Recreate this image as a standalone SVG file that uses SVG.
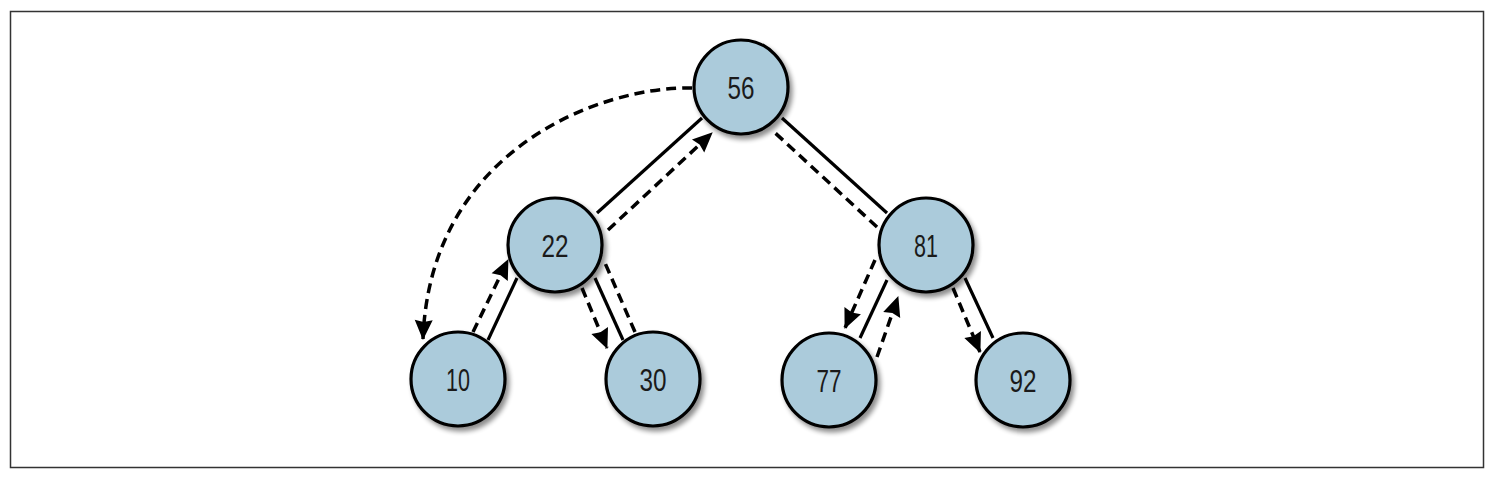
<svg xmlns="http://www.w3.org/2000/svg" width="1490" height="478" viewBox="0 0 1490 478">
<style>
.node circle{fill:#abcbdb;stroke:#000;stroke-width:3.2;filter:url(#sh)}
.node text{font-family:"Liberation Sans",Arial,sans-serif;font-size:32px;fill:#1a1a1a;text-anchor:middle}
.solid{stroke:#000;stroke-width:3.2;fill:none}
.dash{stroke:#000;stroke-width:3.5;fill:none;stroke-dasharray:10 6}
.arr{marker-end:url(#ah)}
</style>
<defs>
<filter id="sh" x="-30%" y="-30%" width="170%" height="170%">
<feGaussianBlur in="SourceAlpha" stdDeviation="2.5"/>
<feOffset dx="3" dy="4" result="b"/>
<feComponentTransfer><feFuncA type="linear" slope="0.45"/></feComponentTransfer>
<feMerge><feMergeNode/><feMergeNode in="SourceGraphic"/></feMerge>
</filter>
<marker id="ah" markerUnits="userSpaceOnUse" viewBox="0 0 20 18" markerWidth="20" markerHeight="18" refX="19" refY="9" orient="auto" overflow="visible">
<path d="M0,0 L20,9 L0,18 L2,9 z" fill="#000"/>
</marker>
</defs>
<rect x="10.5" y="11.5" width="1473" height="456" fill="#fff" stroke="#333" stroke-width="1.5"/>
<g id="nodes">
<g id="n56" class="node"><circle cx="741" cy="87" r="47"/><text x="741" y="98.5" textLength="27" lengthAdjust="spacingAndGlyphs">56</text></g>
<g id="n22" class="node"><circle cx="555" cy="245" r="47"/><text x="555" y="256.5" textLength="27" lengthAdjust="spacingAndGlyphs">22</text></g>
<g id="n81" class="node"><circle cx="926" cy="245" r="47"/><text x="926" y="256.5" textLength="24" lengthAdjust="spacingAndGlyphs">81</text></g>
<g id="n10" class="node"><circle cx="458" cy="379" r="47"/><text x="458" y="390.5" textLength="24" lengthAdjust="spacingAndGlyphs">10</text></g>
<g id="n30" class="node"><circle cx="653" cy="379" r="47"/><text x="653" y="390.5" textLength="27" lengthAdjust="spacingAndGlyphs">30</text></g>
<g id="n77" class="node"><circle cx="829" cy="380" r="47"/><text x="829" y="391.5" textLength="25" lengthAdjust="spacingAndGlyphs">77</text></g>
<g id="n92" class="node"><circle cx="1023" cy="380" r="47"/><text x="1023" y="391.5" textLength="27" lengthAdjust="spacingAndGlyphs">92</text></g>
</g>
<g id="connectors">
<line class="solid" x1="702" y1="118" x2="597" y2="213"/>
<line class="dash arr" x1="608" y1="230" x2="712" y2="133"/>
<path class="dash arr" d="M692,88 C600,86 430,150 423,339"/>
<line class="solid" x1="517" y1="278" x2="488" y2="340"/>
<line class="dash arr" x1="473" y1="332" x2="508" y2="260"/>
<line class="solid" x1="595" y1="278" x2="623" y2="340"/>
<line class="dash arr" x1="582" y1="288" x2="607" y2="348"/>
<line class="dash" x1="635" y1="332" x2="605" y2="263"/>
<line class="solid" x1="782" y1="118" x2="887" y2="213"/>
<line class="dash" x1="877" y1="227" x2="772" y2="130"/>
<line class="dash arr" x1="875" y1="260" x2="845" y2="328"/>
<line class="solid" x1="887" y1="280" x2="860" y2="338"/>
<line class="dash arr" x1="877" y1="357" x2="898" y2="297"/>
<line class="dash arr" x1="953" y1="288" x2="980" y2="352"/>
<line class="solid" x1="965" y1="278" x2="993" y2="338"/>
</g>
</svg>
